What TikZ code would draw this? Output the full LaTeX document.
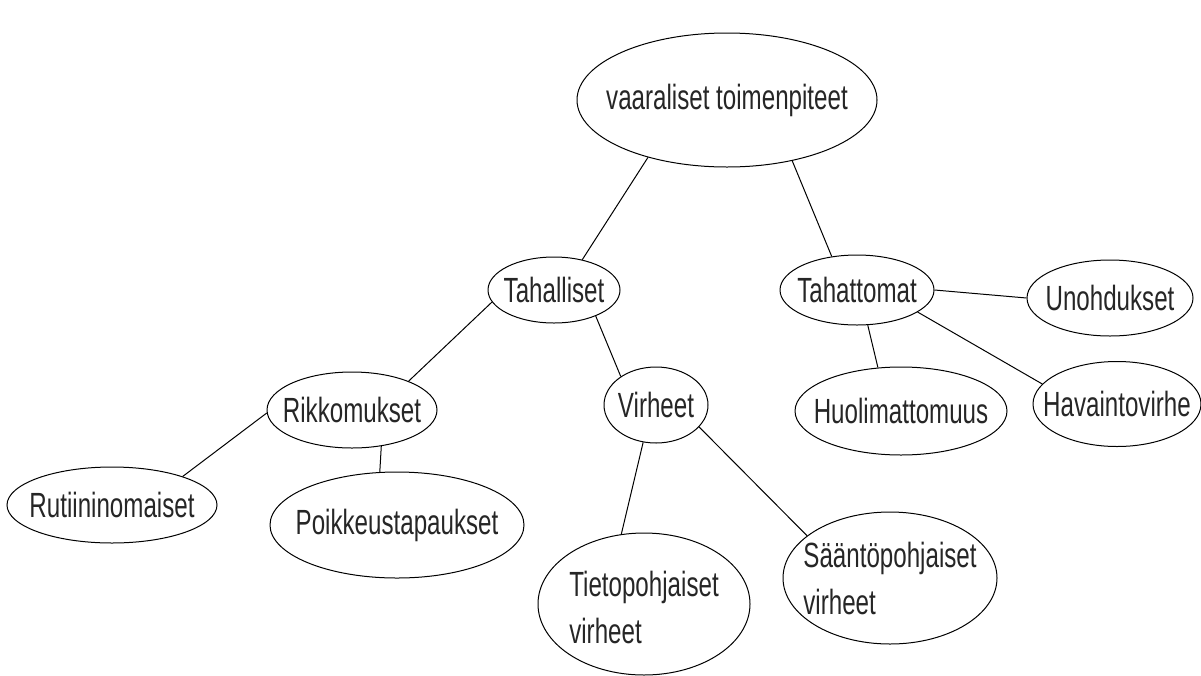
\documentclass[tikz,border=0pt]{standalone}
\usepackage{fontspec}
\setmainfont{Liberation Sans}[FakeStretch=0.69]
\usetikzlibrary{shapes.geometric}
\begin{document}
\begin{tikzpicture}[x=1pt,y=-1pt,
  oval/.style={ellipse,draw=black,line width=1pt,inner sep=0pt},
  lbl/.style={text=black!85,font=\fontsize{35}{47}\selectfont,inner sep=0pt,align=left},
  link/.style={draw=black,line width=1pt}]
\useasboundingbox (0,0) rectangle (1201,675);
% ovals: width = 2rx, height = 2ry, caption set in the centre
\node[oval,minimum width=300pt,minimum height=134pt,label={[lbl]center:vaaraliset toimenpiteet}] (top) at (727,100) {};
\node[oval,minimum width=132pt,minimum height=66pt,label={[lbl]center:Tahalliset}] (tahal) at (554,290) {};
\node[oval,minimum width=154pt,minimum height=70pt,label={[lbl]center:Tahattomat}] (tahat) at (857,290) {};
\node[oval,minimum width=166pt,minimum height=76pt,label={[lbl]center:Unohdukset}] (unoh) at (1110,298) {};
\node[oval,minimum width=170pt,minimum height=76pt,label={[lbl]center:Rikkomukset}] (rikko) at (352,410) {};
\node[oval,minimum width=104pt,minimum height=76pt,label={[lbl]center:Virheet}] (virh) at (656,405) {};
\node[oval,minimum width=212pt,minimum height=88pt,label={[lbl]center:Huolimattomuus}] (huol) at (901,411) {};
\node[oval,minimum width=168pt,minimum height=85pt,label={[lbl]center:Havaintovirhe}] (havai) at (1117,404) {};
\node[oval,minimum width=210pt,minimum height=76pt,label={[lbl]center:Rutiininomaiset}] (rutii) at (112,505) {};
\node[oval,minimum width=254pt,minimum height=106pt,label={[lbl]center:Poikkeustapaukset}] (poikk) at (397,525) {};
\node[oval,minimum width=212pt,minimum height=142pt,label={[lbl,yshift=-3pt]center:Tietopohjaiset\\virheet}] (tieto) at (644,604) {};
\node[oval,minimum width=214pt,minimum height=132pt,label={[lbl]center:Sääntöpohjaiset\\virheet}] (saanto) at (890,578) {};
% connectors
\draw[link] (top.216.7) -- (tahal.47);
\draw[link] (top.317.5) -- (tahat.127);
\draw[link] (tahal.191) -- (rikko.27);
\draw[link] (tahal.328.5) -- (virh.141.5);
\draw[link] (virh.251) -- (tieto.108);
\draw[link] (virh.333.4) -- (saanto.153);
\draw[link] (tahat.0) -- (unoh.180);
\draw[link] (tahat.287) -- (huol.118);
\draw[link] (tahat.340) -- (havai.165.6);
\draw[link] (rikko.309) -- (poikk.108);
\draw[link] (rutii.22.4) -- (rikko.182);
\end{tikzpicture}
\end{document}
